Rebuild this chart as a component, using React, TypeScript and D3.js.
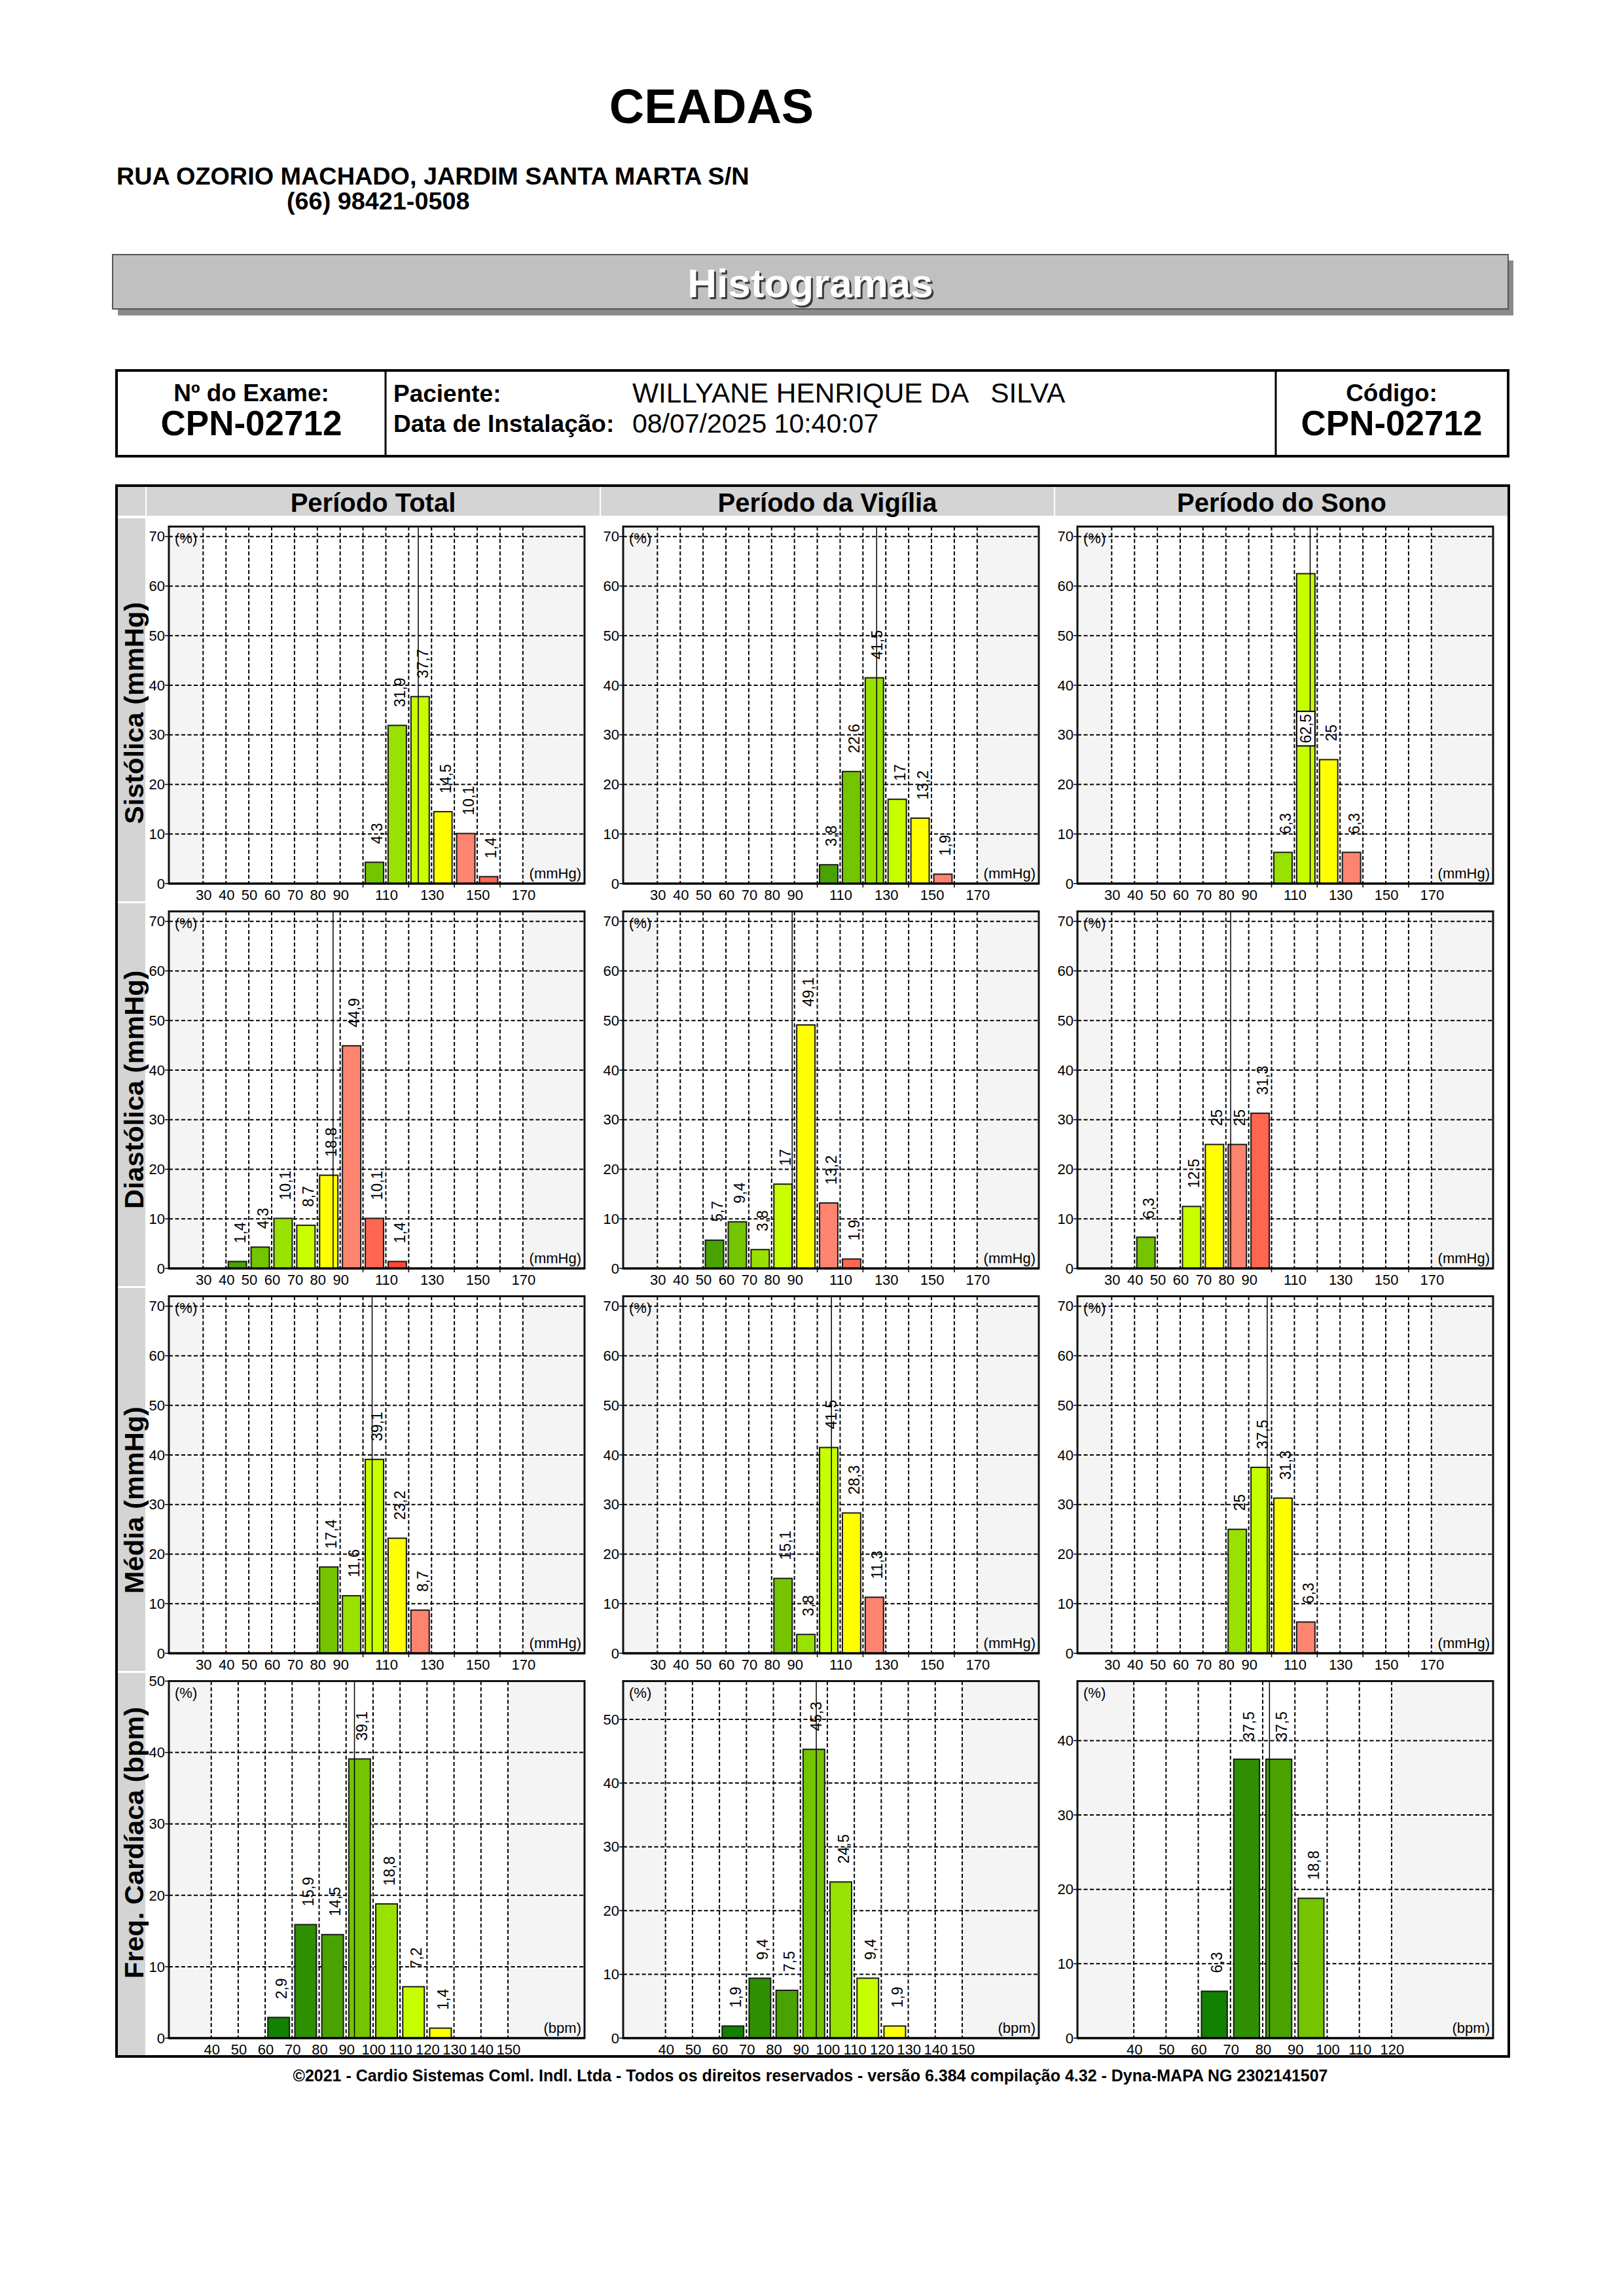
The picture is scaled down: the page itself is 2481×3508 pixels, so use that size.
import React, { useEffect, useRef } from 'react';
import * as d3 from 'd3';

// ---- data (bin start, %) ----
const periods = ['Período Total', 'Período da Vigília', 'Período do Sono'];
const rowLabels = ['Sistólica (mmHg)', 'Diastólica (mmHg)', 'Média (mmHg)', 'Freq. Cardíaca (bpm)'];

const sistTotal = [[100, 4.3], [110, 31.9], [120, 37.7], [130, 14.5], [140, 10.1], [150, 1.4]];
const sistVigilia = [[100, 3.8], [110, 22.6], [120, 41.5], [130, 17], [140, 13.2], [150, 1.9]];
const sistSono = [[100, 6.3], [110, 62.5], [120, 25], [130, 6.3]];
const sistMeans = [124.2, 126.0, 116.9];
const sistYellow = [130, 140, 120];

const diasTotal = [[40, 1.4], [50, 4.3], [60, 10.1], [70, 8.7], [80, 18.8], [90, 44.9], [100, 10.1], [110, 1.4]];
const diasVigilia = [[50, 5.7], [60, 9.4], [70, 3.8], [80, 17], [90, 49.1], [100, 13.2], [110, 1.9]];
const diasSono = [[40, 6.3], [60, 12.5], [70, 25], [80, 25], [90, 31.3]];
const diasMeans = [86.9, 89.0, 82.1];
const diasYellow = [80, 90, 70];

const mediaTotal = [[80, 17.4], [90, 11.6], [100, 39.1], [110, 23.2], [120, 8.7]];
const mediaVigilia = [[80, 15.1], [90, 3.8], [100, 41.5], [110, 28.3], [120, 11.3]];
const mediaSono = [[80, 25], [90, 37.5], [100, 31.3], [110, 6.3]];
const mediaMeans = [104.0, 106.2, 98.1];
const mediaYellow = [110, 110, 100];

const fcTotal = [[60, 2.9], [70, 15.9], [80, 14.5], [90, 39.1], [100, 18.8], [110, 7.2], [120, 1.4]];
const fcVigilia = [[60, 1.9], [70, 9.4], [80, 7.5], [90, 45.3], [100, 24.5], [110, 9.4], [120, 1.9]];
const fcSono = [[60, 6.3], [70, 37.5], [80, 37.5], [90, 18.8]];
const fcMeans = [93.1, 95.9, 82.1];
const fcYellow = [120, 120, 120];

// axis ticks
const bpGrid = d3.range(30, 171, 10);
const bpLabels = [30, 40, 50, 60, 70, 80, 90, 110, 130, 150, 170];
const bpYTicks = d3.range(0, 71, 10);
const fcGridWide = d3.range(40, 151, 10);
const fcGridSono = d3.range(40, 121, 10);
const fcYTicksTotal = d3.range(0, 51, 10);
const fcYTicksVig = d3.range(0, 51, 10);
const fcYTicksSono = d3.range(0, 41, 10);

// palette around the "yellow" bin: -6 ... +3
const palette = ['#128000', '#2e9000', '#4aa200', '#74c400', '#99e100', '#c8ff00', '#ffff00', '#ff8470', '#ff6650', '#ff4a30'];

const FONT = "'Liberation Sans', Arial, Helvetica, sans-serif";

const fmt = (v: number) => String(v).replace('.', ',');

export default function App() {
  const svgRef = useRef<SVGSVGElement>(null);

  useEffect(() => {
    if (!svgRef.current) return;
    const svg = d3.select(svgRef.current);
    svg.selectAll('*').remove();
    svg.attr('font-family', FONT);

    const txt = (g: any, x: number, y: number, s: string, size: number, weight = 'normal', anchor = 'start') =>
      g.append('text').attr('x', x).attr('y', y).attr('font-size', size).attr('font-weight', weight)
        .attr('text-anchor', anchor).attr('fill', '#000').text(s);

    svg.append('rect').attr('width', 2481).attr('height', 3508).attr('fill', '#fff');

    // ---- page header ----
    txt(svg, 1087, 188, 'CEADAS', 74, 'bold', 'middle');
    txt(svg, 178, 282, 'RUA OZORIO MACHADO, JARDIM SANTA MARTA S/N', 37.8, 'bold');
    txt(svg, 438, 320, '(66) 98421-0508', 37.8, 'bold');

    svg.append('rect').attr('x', 180).attr('y', 398).attr('width', 2132).attr('height', 84).attr('fill', '#8a8a8a');
    svg.append('rect').attr('x', 172).attr('y', 389).attr('width', 2132).attr('height', 83)
      .attr('fill', '#c0c0c0').attr('stroke', '#555').attr('stroke-width', 2);
    txt(svg, 1241, 457, 'Histogramas', 62, 'bold', 'middle').attr('fill', '#3a3a3a');
    txt(svg, 1238, 454, 'Histogramas', 62, 'bold', 'middle').attr('fill', '#fff');

    // info table
    svg.append('rect').attr('x', 178).attr('y', 566).attr('width', 2126).attr('height', 131)
      .attr('fill', 'none').attr('stroke', '#000').attr('stroke-width', 4);
    [589, 1949].forEach(xv => svg.append('line').attr('x1', xv).attr('x2', xv).attr('y1', 566).attr('y2', 697)
      .attr('stroke', '#000').attr('stroke-width', 3));
    txt(svg, 384, 613, 'Nº do Exame:', 37, 'bold', 'middle');
    txt(svg, 384, 665, 'CPN-02712', 53, 'bold', 'middle');
    txt(svg, 601, 614, 'Paciente:', 37, 'bold');
    txt(svg, 966, 615, 'WILLYANE HENRIQUE DA   SILVA', 42.4).style('white-space', 'pre');
    txt(svg, 601, 660, 'Data de Instalação:', 37, 'bold');
    txt(svg, 966, 661, '08/07/2025 10:40:07', 41);
    txt(svg, 2126, 613, 'Código:', 37, 'bold', 'middle');
    txt(svg, 2126, 665, 'CPN-02712', 53, 'bold', 'middle');

    // ---- histogram grid ----
    const OUT_L = 178, OUT_R = 2305, OUT_T = 742, HEAD_B = 790, ROW_H = 588;
    const OUT_B = HEAD_B + ROW_H * 4;
    const colX = [223, 917, 1611];
    const COL_W = 694;

    // header cells
    svg.append('rect').attr('x', 180).attr('y', OUT_T + 2).attr('width', 42).attr('height', HEAD_B - OUT_T - 4).attr('fill', '#d4d4d4');
    colX.forEach((cx, i) => {
      svg.append('rect').attr('x', cx + 1).attr('y', OUT_T + 2).attr('width', COL_W - 2).attr('height', HEAD_B - OUT_T - 4)
        .attr('fill', '#d4d4d4');
      txt(svg, cx + COL_W / 2, 782, periods[i], 40, 'bold', 'middle');
    });

    const rows = [
      { data: [sistTotal, sistVigilia, sistSono], means: sistMeans, yellow: sistYellow, unit: '(mmHg)',
        xDomains: [[15, 197], [15, 197], [15, 197]], yMax: [72, 72, 72], yTicks: [bpYTicks, bpYTicks, bpYTicks],
        grid: [bpGrid, bpGrid, bpGrid], labels: [bpLabels, bpLabels, bpLabels] },
      { data: [diasTotal, diasVigilia, diasSono], means: diasMeans, yellow: diasYellow, unit: '(mmHg)',
        xDomains: [[15, 197], [15, 197], [15, 197]], yMax: [72, 72, 72], yTicks: [bpYTicks, bpYTicks, bpYTicks],
        grid: [bpGrid, bpGrid, bpGrid], labels: [bpLabels, bpLabels, bpLabels] },
      { data: [mediaTotal, mediaVigilia, mediaSono], means: mediaMeans, yellow: mediaYellow, unit: '(mmHg)',
        xDomains: [[15, 197], [15, 197], [15, 197]], yMax: [72, 72, 72], yTicks: [bpYTicks, bpYTicks, bpYTicks],
        grid: [bpGrid, bpGrid, bpGrid], labels: [bpLabels, bpLabels, bpLabels] },
      { data: [fcTotal, fcVigilia, fcSono], means: fcMeans, yellow: fcYellow, unit: '(bpm)',
        xDomains: [[24.3, 178.4], [24.3, 178.4], [22.5, 151.5]], yMax: [50, 56, 48],
        yTicks: [fcYTicksTotal, fcYTicksVig, fcYTicksSono],
        grid: [fcGridWide, fcGridWide, fcGridSono], labels: [fcGridWide, fcGridWide, fcGridSono] },
    ];

    rows.forEach((row, r) => {
      const rowTop = HEAD_B + r * ROW_H;
      // left label cell
      svg.append('rect').attr('x', 180).attr('y', rowTop + 2).attr('width', 42).attr('height', ROW_H - 3).attr('fill', '#d4d4d4');
      txt(svg, 0, 0, rowLabels[r], 41.5, 'bold').attr('transform', `translate(219,${rowTop + 469}) rotate(-90)`);

      const axisY = 1350 + r * ROW_H;
      colX.forEach((cx, c) => {
        const left = cx + 35, right = cx + 670, top = axisY - 545.5, bottom = axisY;
        const x = d3.scaleLinear().domain(row.xDomains[c]).range([left, right]);
        const y = d3.scaleLinear().domain([0, row.yMax[c]]).range([bottom, top]);
        const grid = row.grid[c];
        const g = svg.append('g');

        g.append('rect').attr('x', left).attr('y', top).attr('width', right - left).attr('height', bottom - top).attr('fill', '#f4f4f4');
        g.append('rect').attr('x', x(grid[0])).attr('y', top).attr('width', x(grid[grid.length - 1]) - x(grid[0]))
          .attr('height', bottom - top).attr('fill', '#fff');

        // grid
        row.yTicks[c].filter(t => t > 0).forEach(t => {
          g.append('line').attr('x1', left).attr('x2', right).attr('y1', y(t)).attr('y2', y(t))
            .attr('stroke', '#000').attr('stroke-width', 2).attr('stroke-dasharray', '6,3.5');
        });
        grid.forEach(t => {
          g.append('line').attr('x1', x(t)).attr('x2', x(t)).attr('y1', top).attr('y2', bottom)
            .attr('stroke', '#000').attr('stroke-width', 2).attr('stroke-dasharray', '6,3.5');
        });

        // bars
        const data = row.data[c] as number[][];
        const yellow = row.yellow[c];
        const colorFor = (bin: number) => palette[Math.max(0, Math.min(palette.length - 1, (bin - yellow) / 10 + 6))];
        g.selectAll('.bar').data(data).enter().append('rect')
          .attr('x', d => x(d[0] + 1)).attr('width', d => x(d[0] + 9) - x(d[0] + 1))
          .attr('y', d => y(d[1])).attr('height', d => bottom - y(d[1]))
          .attr('fill', d => colorFor(d[0])).attr('stroke', '#1a1a1a').attr('stroke-width', 2);

        // mean line
        const m = row.means[c];
        g.append('line').attr('x1', x(m)).attr('x2', x(m)).attr('y1', top).attr('y2', bottom)
          .attr('stroke', '#000').attr('stroke-width', 1.5);

        // value labels
        data.forEach(d => {
          const cxm = x(d[0] + 5);
          const t = g.append('text').attr('font-size', 23).attr('fill', '#000').text(fmt(d[1]));
          const len = (t.node() as SVGTextElement).getComputedTextLength();
          const yt = y(d[1]);
          if (yt - 28 - len < top + 15) {
            const mid = y(d[1] / 2);
            g.insert('rect', () => t.node())
              .attr('x', x(d[0] + 1)).attr('width', x(d[0] + 9) - x(d[0] + 1))
              .attr('y', mid - len / 2 - 4).attr('height', len + 8)
              .attr('fill', '#fff').attr('stroke', '#000').attr('stroke-width', 2);
            t.attr('text-anchor', 'middle').attr('transform', `translate(${cxm + 8},${mid}) rotate(-90)`);
          } else {
            t.attr('text-anchor', 'start').attr('transform', `translate(${cxm + 12},${yt - 28}) rotate(-90)`);
          }
        });

        // frame + axes
        g.append('rect').attr('x', left).attr('y', top).attr('width', right - left).attr('height', bottom - top)
          .attr('fill', 'none').attr('stroke', '#111').attr('stroke-width', 3);
        g.append('line').attr('x1', left).attr('x2', right).attr('y1', bottom).attr('y2', bottom)
          .attr('stroke', '#000').attr('stroke-width', 3);

        row.yTicks[c].forEach(t => {
          g.append('line').attr('x1', left - 6).attr('x2', left).attr('y1', y(t)).attr('y2', y(t))
            .attr('stroke', '#000').attr('stroke-width', 1.5);
          txt(g, left - 6, y(t), String(t), 22, 'normal', 'end').attr('dy', '0.35em');
        });
        const labels = row.labels[c];
        grid.filter(t => !labels.includes(t)).forEach(t => {
          g.append('line').attr('x1', x(t)).attr('x2', x(t)).attr('y1', bottom).attr('y2', bottom + 6)
            .attr('stroke', '#000').attr('stroke-width', 1.5);
        });
        labels.forEach(t => txt(g, x(t) + 1, bottom + 24.5, String(t), 22, 'normal', 'middle'));

        txt(g, left + 9, top + 25, '(%)', 22);
        txt(g, right - 5, bottom - 8, row.unit, 22, 'normal', 'end');
      });

      if (r > 0) {
        svg.append('line').attr('x1', OUT_L).attr('x2', 222).attr('y1', rowTop).attr('y2', rowTop)
          .attr('stroke', '#fff').attr('stroke-width', 2);
      }
    });

    svg.append('rect').attr('x', OUT_L).attr('y', OUT_T).attr('width', OUT_R - OUT_L).attr('height', OUT_B - OUT_T)
      .attr('fill', 'none').attr('stroke', '#000').attr('stroke-width', 4);

    txt(svg, 1238, 3180,
      '©2021 - Cardio Sistemas Coml. Indl. Ltda - Todos os direitos reservados - versão 6.384 compilação 4.32 - Dyna-MAPA NG 2302141507',
      25, 'bold', 'middle');
  }, []);

  return (
    <svg ref={svgRef} width={2481} height={3508} style={{ position: 'absolute', left: 0, top: 0 }} />
  );
}
